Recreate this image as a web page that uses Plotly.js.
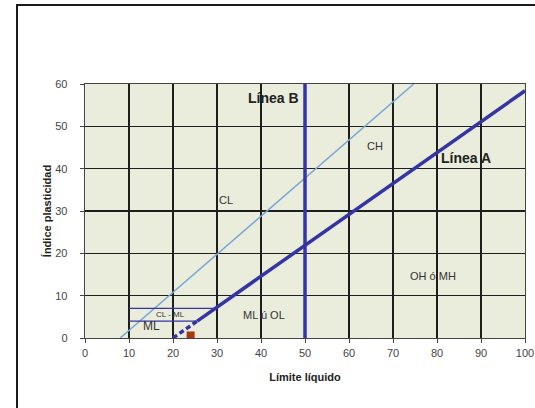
<!DOCTYPE html>
<html>
<head>
<meta charset="utf-8">
<script src="https://cdn.plot.ly/plotly-3.0.1.min.js"></script>
<style>
  html, body { margin: 0; padding: 0; background: #fff; }
  #wrap { position: relative; width: 535px; height: 408px; overflow: hidden; }
  #chart { position: absolute; left: 0; top: 0; width: 535px; height: 408px; }
  #frame { position: absolute; left: 16px; top: 4px; width: 640px; height: 520px;
           border: 2px solid #1a1a1a; box-shadow: 1px 1px 1px #999; pointer-events: none; }
</style>
</head>
<body>
<div id="wrap">
  <div id="chart"></div>
  <div id="frame"></div>
</div>
<script>
// Línea A (solid part) and its dashed start
const lineA_x = [25.5, 100];
const lineA_y = [4, 58.4];
const lineAdash_x = [20, 25.5];
const lineAdash_y = [0, 4];
// Línea U (thin light blue)
const lineU_x = [8, 74.7];
const lineU_y = [0, 60];
// Línea B (vertical at LL = 50)
const lineB_x = [50, 50];
const lineB_y = [0, 60];
// CL-ML band limits
const bandTop_x = [10, 29.6];
const bandTop_y = [7, 7];
const bandBot_x = [10, 25.5];
const bandBot_y = [4, 4];
// Sample point
const sample_x = [24];
const sample_y = [0.6];

const xTicks = [0, 10, 20, 30, 40, 50, 60, 70, 80, 90, 100];
const yTicks = [0, 10, 20, 30, 40, 50, 60];

const labels = [
  {text: 'Línea B', x: 42.9, y: 56.6, bold: true, size: 14},
  {text: 'Línea A', x: 86.5, y: 42.6, bold: true, size: 14},
  {text: 'CH', x: 65.8, y: 45.4, size: 11},
  {text: 'CL', x: 32.1, y: 32.6, size: 11},
  {text: 'OH ó MH', x: 79.1, y: 14.6, size: 11},
  {text: 'ML ú OL', x: 40.7, y: 5.4, size: 11},
  {text: 'CL - ML', x: 19.4, y: 5.6, size: 8},
  {text: 'ML', x: 15.2, y: 2.8, size: 12}
];

const dark = '#3434a4';
const traces = [
  {x: lineU_x, y: lineU_y, mode: 'lines', line: {color: '#79a6d6', width: 1.5}},
  {x: bandTop_x, y: bandTop_y, mode: 'lines', line: {color: dark, width: 1.2}},
  {x: bandBot_x, y: bandBot_y, mode: 'lines', line: {color: dark, width: 1.2}},
  {x: lineB_x, y: lineB_y, mode: 'lines', line: {color: dark, width: 3.5}},
  {x: lineA_x, y: lineA_y, mode: 'lines', line: {color: dark, width: 3.5}},
  {x: lineAdash_x, y: lineAdash_y, mode: 'lines', line: {color: dark, width: 3.5, dash: '5px,3px'}},
  {x: sample_x, y: sample_y, mode: 'markers', marker: {symbol: 'square', size: 8, color: '#a63a0c'}}
];

const font = 'Liberation Sans, Arial, sans-serif';
const layout = {
  width: 535, height: 408,
  margin: {l: 85, r: 10, t: 84, b: 70},
  paper_bgcolor: 'rgba(0,0,0,0)',
  plot_bgcolor: '#eaeddc',
  showlegend: false,
  font: {family: font, size: 11, color: '#333'},
  xaxis: {
    range: [0, 100], tickvals: xTicks, ticktext: xTicks.map(String),
    showgrid: true, gridcolor: '#1e1e1e', gridwidth: 1.3,
    showline: true, linecolor: '#444', linewidth: 1.3, mirror: true,
    ticks: 'outside', ticklen: 4, tickcolor: '#444', zeroline: false,
    tickfont: {family: font, size: 11, color: '#444'},
    title: {text: '<b>Límite líquido</b>', font: {family: font, size: 11, color: '#222'}}
  },
  yaxis: {
    range: [0, 60], tickvals: yTicks, ticktext: yTicks.map(String),
    showgrid: true, gridcolor: '#1e1e1e', gridwidth: 1.3,
    showline: true, linecolor: '#444', linewidth: 1.3, mirror: true,
    ticks: 'outside', ticklen: 4, tickcolor: '#444', zeroline: false,
    ticklabelstandoff: 10,
    tickfont: {family: font, size: 11, color: '#444'},
    title: {text: '<b>Índice plasticidad</b>', font: {family: font, size: 11, color: '#222'}}
  },
  annotations: labels.map(l => ({
    x: l.x, y: l.y, xref: 'x', yref: 'y', showarrow: false,
    text: l.bold ? '<b>' + l.text + '</b>' : l.text,
    font: {family: font, size: l.size, color: l.bold ? '#222' : '#333'}
  }))
};

Plotly.newPlot('chart', traces, layout, {staticPlot: true, displayModeBar: false});
</script>
</body>
</html>
